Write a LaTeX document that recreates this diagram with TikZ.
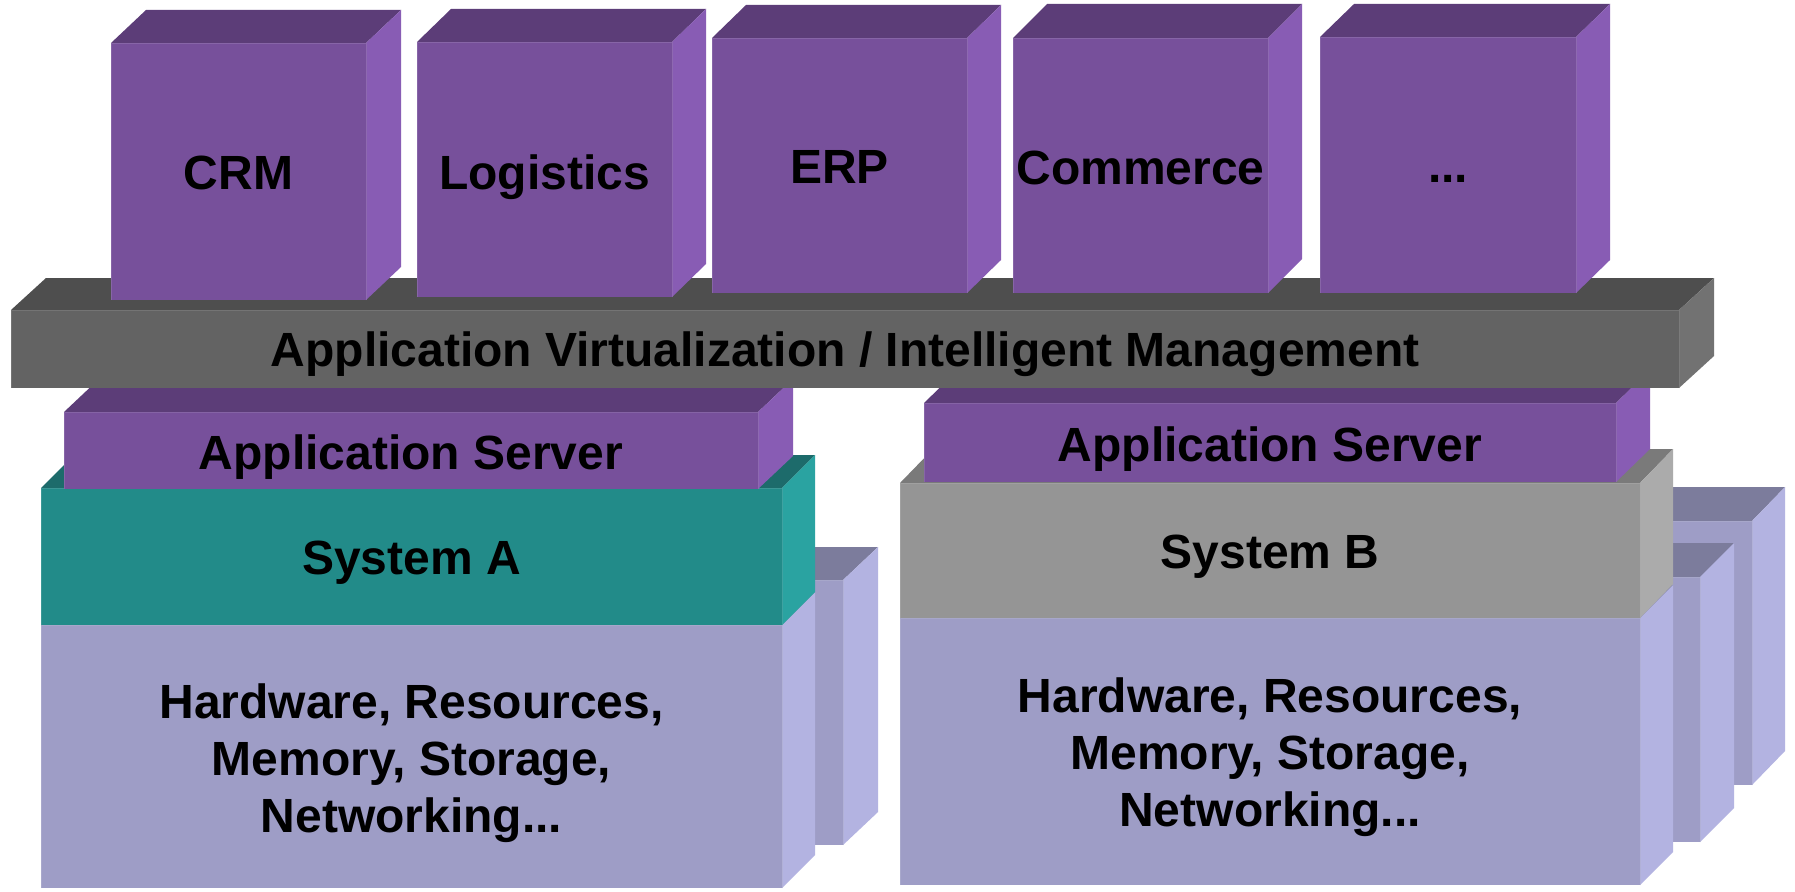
\documentclass[tikz,border=0pt]{standalone}
\usepackage{fontspec}
\setmainfont{Liberation Sans}
\definecolor{purF}{HTML}{77509B}
\definecolor{purT}{HTML}{5C3D78}
\definecolor{purS}{HTML}{885CB4}
\definecolor{barF}{HTML}{636363}
\definecolor{barT}{HTML}{4E4E4E}
\definecolor{barS}{HTML}{727272}
\definecolor{tealF}{HTML}{228B89}
\definecolor{tealT}{HTML}{1D6B6B}
\definecolor{tealS}{HTML}{2AA3A1}
\definecolor{sysbF}{HTML}{959595}
\definecolor{sysbT}{HTML}{7A7A7A}
\definecolor{sysbS}{HTML}{ABABAB}
\definecolor{hwF}{HTML}{9E9DC6}
\definecolor{hwT}{HTML}{7C7C9C}
\definecolor{hwS}{HTML}{B3B3E1}
% cuboid: x-left, y-top, x-right, y-bottom (front face), colour prefix, depth dx, depth dy
\newcommand\cuboid[7]{%
  \fill[#5F] (#1,#2) rectangle (#3,#4);
  \fill[#5T] (#1,#2) -- ({#1+#6},{#2-#7}) -- ({#3+#6},{#2-#7}) -- (#3,#2) -- cycle;
  \fill[#5S] (#3,#2) -- ({#3+#6},{#2-#7}) -- ({#3+#6},{#4-#7}) -- (#3,#4) -- cycle;
  \draw[edge, #5F!80!white] (#1,#4) -- (#1,#2) -- (#3,#2) -- (#3,#4);
}
\tikzset{
  edge/.style={line width=0.8pt, opacity=0.6},
  lbl/.style={font=\bfseries\fontsize{48}{57}\selectfont, text=black, align=center,
    inner sep=0pt, text height=34.4pt, text depth=0pt},
  mlbl/.style={font=\bfseries\fontsize{48}{57}\selectfont, text=black, align=center,
    inner sep=0pt, text depth=0pt}
}
\begin{document}
\begin{tikzpicture}[x=1pt,y=-1pt]
\useasboundingbox[fill=white] (0,0) rectangle (1795,891);
% boxes behind the hardware blocks
\cuboid{102}{580}{843}{845}{hw}{35}{33}
\cuboid{1011}{521}{1752}{785}{hw}{33}{34}
\cuboid{959}{577}{1700}{842}{hw}{34}{34}
% stack A
\cuboid{41}{625}{782}{888}{hw}{33}{33}
\cuboid{41}{488}{782}{625}{teal}{33}{33}
\cuboid{64}{412}{758}{489}{pur}{35}{33}
% stack B
\cuboid{900}{618}{1640}{885}{hw}{33}{33}
\cuboid{900}{483}{1640}{618}{sysb}{33}{34}
\cuboid{924}{403}{1616}{482}{pur}{34}{33}
% management bar
\cuboid{11}{310}{1679}{388}{bar}{35}{32}
% application boxes
\cuboid{111}{43}{366}{300}{pur}{35}{33}
\cuboid{417}{42}{672}{297}{pur}{34}{33}
\cuboid{712}{38}{967}{293}{pur}{34}{33}
\cuboid{1013}{38}{1268}{293}{pur}{34}{34}
\cuboid{1320}{37}{1576}{293}{pur}{34}{33}
% labels
\node[lbl] (crm) at (238.5,172) {CRM};
\node[lbl] (log) at (544.5,172) {Logistics};
\node[lbl] (erp) at (839.5,166) {ERP};
\node[lbl] (com) at (1140.5,167) {Commerce};
\node[lbl] (dots) at (1448,165) {...};
\node[lbl] (mgmt) at (845,349) {Application Virtualization / Intelligent Management};
\node[lbl] (asA) at (411,452) {Application Server};
\node[lbl] (sysA) at (411.5,557) {System A};
\node[mlbl] (hwA) at (411.5,758) {Hardware, Resources,\\Memory, Storage,\\Networking...};
\node[lbl] (asB) at (1270,444) {Application Server};
\node[lbl] (sysB) at (1270,551) {System B};
\node[mlbl] (hwB) at (1270,752) {Hardware, Resources,\\Memory, Storage,\\Networking...};
\end{tikzpicture}
\end{document}
